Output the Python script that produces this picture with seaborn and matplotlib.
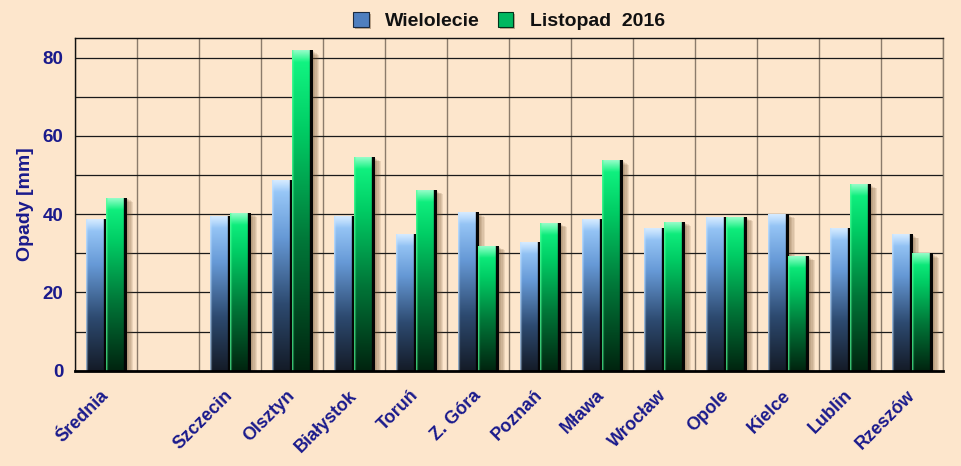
import numpy as np
import pandas as pd
import matplotlib
matplotlib.use('Agg')
import matplotlib.pyplot as plt
import seaborn as sns
from matplotlib.ticker import MultipleLocator, FixedLocator
from matplotlib.colors import LinearSegmentedColormap
from matplotlib.patches import Patch
import matplotlib.patheffects as pe

# ---------------- data ----------------
categories = ['Średnia', ' ', 'Szczecin', 'Olsztyn', 'Białystok', 'Toruń', 'Z. Góra',
              'Poznań', 'Mława', 'Wrocław', 'Opole', 'Kielce', 'Lublin', 'Rzeszów']
cities = ['Średnia', 'Szczecin', 'Olsztyn', 'Białystok', 'Toruń', 'Z. Góra',
          'Poznań', 'Mława', 'Wrocław', 'Opole', 'Kielce', 'Lublin', 'Rzeszów']
wielolecie = [38.6, 39.5, 48.6, 39.5, 34.8, 40.4, 32.8, 38.8, 36.5, 39.2, 40.0, 36.5, 34.8]
listopad = [44.2, 40.3, 81.8, 54.5, 46.1, 31.8, 37.7, 53.7, 38.0, 39.2, 29.2, 47.6, 29.9]
series = ['Wielolecie', 'Listopad  2016']
y_ticks = [0, 20, 40, 60, 80]
y_max = 85

df = pd.DataFrame({
    'miasto': cities * 2,
    'seria': [series[0]] * len(cities) + [series[1]] * len(cities),
    'opady': wielolecie + listopad,
})

# ---------------- style ----------------
sns.set_style('white')
plt.rcParams['font.family'] = ['Liberation Sans', 'DejaVu Sans']
plt.rcParams['font.weight'] = 'bold'

BG = '#FDE6CC'
NAVY = '#1A1A8C'
blue_cmap = LinearSegmentedColormap.from_list(
    'blue', [(0.0, '#141b27'), (0.35, '#2d4a70'), (0.7, '#6699d6'), (1.0, '#a4d2ff')])
green_cmap = LinearSegmentedColormap.from_list(
    'green', [(0.0, '#00240f'), (0.4, '#007638'), (0.75, '#00cc64'), (1.0, '#14fa86')])
cmaps = [blue_cmap, green_cmap]
edge_light = ['#c4e2ff', '#50ff98']

fig = plt.figure(figsize=(9.61, 4.66), dpi=100, facecolor=BG)
ax = fig.add_axes([0.07804, 0.2045, 0.9032, 0.7139])
ax.set_facecolor(BG)

sns.barplot(data=df, x='miasto', y='opady', hue='seria', order=categories,
            hue_order=series, palette=['#5d8fcc', '#00b05a'], width=0.65,
            errorbar=None, ax=ax, legend=False)

shadow = [pe.SimplePatchShadow(offset=(o, -0.55 * o), shadow_rgbFace='#6a4a2a', alpha=0.12)
          for o in (1.2, 2.2, 3.2, 4.2, 5.2)] + [pe.Normal()]

NR, NC = 400, 20
for ci, cont in enumerate(ax.containers):
    cmap = cmaps[ci]
    for p in cont.patches:
        h = p.get_height()
        if not np.isfinite(h) or h <= 0:
            continue
        x0, w = p.get_x(), p.get_width()
        p.set_edgecolor('none')
        p.set_zorder(1.2)
        p.set_path_effects(shadow)
        t = np.linspace(0, 1, NR)
        col = cmap(t)[:, None, :].repeat(NC, axis=1)
        # top highlight (about 3 data units high)
        d = (1 - t) * h
        blend = np.clip(1 - d / 3.0, 0, 1) * 0.55
        col[:, :, :3] = col[:, :, :3] * (1 - blend[:, None, None]) + blend[:, None, None]
        # left light edge, right dark edge
        light = np.array(matplotlib.colors.to_rgb(edge_light[ci]))
        col[:, 0, :3] = col[:, 0, :3] * 0.3 + light * 0.7
        col[:, 1, :3] = col[:, 1, :3] * 0.7 + light * 0.3
        col[:, -3:, :3] = 0.02
        ax.imshow(col, extent=[x0, x0 + w, 0, h], origin='lower', aspect='auto',
                  interpolation='bilinear', zorder=1.5, clip_path=p, clip_on=True)

# ---------------- axes ----------------
ax.set_xlim(-0.5, len(categories) - 0.5)
ax.set_ylim(0, y_max)
ax.set_axisbelow(True)

ax.set_xticks(range(len(categories)))
ax.set_xticklabels(categories, rotation=45, ha='right', va='center',
                   rotation_mode='anchor', fontsize=13, color=NAVY, fontweight='bold')
ax.xaxis.set_minor_locator(FixedLocator(np.arange(-0.5, len(categories), 1.0)))
ax.tick_params(axis='x', which='major', length=0, pad=16)
ax.tick_params(axis='x', which='minor', length=6, width=1, color='#555555', direction='out')

ax.yaxis.set_major_locator(FixedLocator(y_ticks))
ax.yaxis.set_minor_locator(MultipleLocator(10))
ax.tick_params(axis='y', which='major', length=5, width=1, color='black', direction='out',
               pad=3.5, labelsize=13.5, labelcolor=NAVY)
ax.tick_params(axis='y', which='minor', length=0)

ax.grid(axis='x', which='minor', color='#8b7b6b', lw=1)
ax.grid(axis='x', which='major', visible=False)
ax.grid(axis='y', which='both', color='#1a1a1a', lw=0.9)

ax.set_xlabel('')
ax.set_ylabel('Opady [mm]', fontsize=14, fontweight='bold', color=NAVY, labelpad=6)

for s in ['left', 'top']:
    ax.spines[s].set_color('#111111')
    ax.spines[s].set_linewidth(1)
ax.spines['right'].set_color('#8b7b6b')
ax.spines['right'].set_linewidth(1)
ax.spines['bottom'].set_color('#000000')
ax.spines['bottom'].set_linewidth(2)

# ---------------- legend ----------------
leg_shadow = [pe.SimplePatchShadow(offset=(1.5, -1.5), shadow_rgbFace='#6a4a2a', alpha=0.4), pe.Normal()]
handles = [Patch(facecolor='#4f7fbf', edgecolor='#1a2a40', lw=0.8, path_effects=leg_shadow),
           Patch(facecolor='#00b860', edgecolor='#00331a', lw=0.8, path_effects=leg_shadow)]
fig.legend(handles, series, loc='center', bbox_to_anchor=(509 / 961, 1 - 21 / 466),
           ncol=2, frameon=False, fontsize=14, handlelength=0.8, handleheight=0.8,
           handletextpad=0.85, columnspacing=0.9, labelcolor='#111111')

fig.savefig('out.png', dpi=100, facecolor=BG)
